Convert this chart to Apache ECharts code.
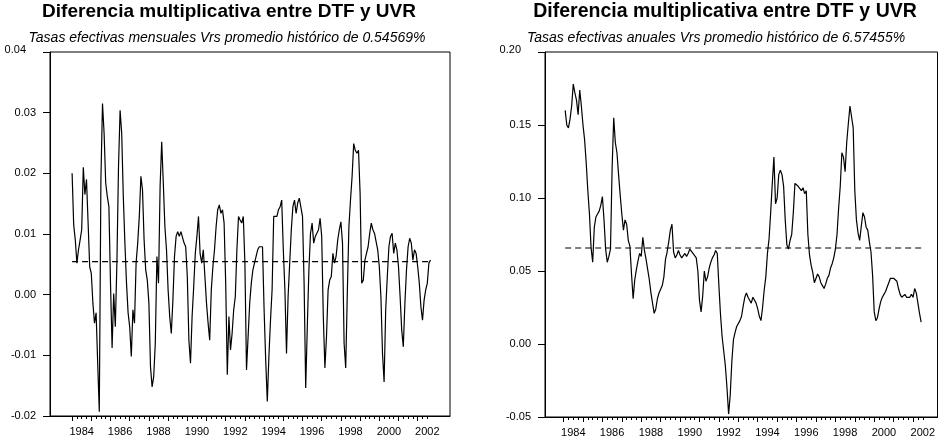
<!DOCTYPE html>
<html>
<head>
<meta charset="utf-8">
<script src="https://cdn.jsdelivr.net/npm/echarts@6/dist/echarts.min.js"></script>
<style>
  html, body { margin: 0; padding: 0; background: #fff; }
  #chart { width: 938px; height: 444px; }
</style>
</head>
<body>
<div id="chart"></div>
<script>
// monthly DTF/UVR multiplicative difference, monthly effective rates, from 1983-07
const monthlyStart = 1983.5;
const monthlyValues = [
  0.0200, 0.0115, 0.0090, 0.0052, 0.0074, 0.0090,
  0.0107, 0.0210, 0.0165, 0.0190, 0.0118, 0.0046, 0.0035, -0.0014, -0.0047, -0.0030, -0.0113, -0.0193,
  0.0189, 0.0315, 0.0266, 0.0184, 0.0162, 0.0145, 0.0019, -0.0088, 0.0002, -0.0053, 0.0052, 0.0211,
  0.0304, 0.0266, 0.0162, 0.0085, 0.0019, -0.0030, -0.0053, -0.0102, -0.0025, -0.0047, 0.0052, 0.0085,
  0.0129, 0.0195, 0.0173, 0.0090, 0.0041, 0.0024, -0.0014, -0.0119, -0.0152, -0.0135, -0.0080, 0.0063,
  0.0019, 0.0178, 0.0252, 0.0184, 0.0112, 0.0074, 0.0008, -0.0036, -0.0064, -0.0009, 0.0063, 0.0096,
  0.0104, 0.0096, 0.0104, 0.0101, 0.0085, 0.0079, 0.0030, -0.0075, -0.0113, -0.0036, 0.0013, 0.0068,
  0.0096, 0.0129, 0.0068, 0.0052, 0.0074, 0.0030, -0.0014, -0.0047, -0.0075, 0.0008, 0.0046, 0.0074,
  0.0112, 0.0140, 0.0148, 0.0134, 0.0140, 0.0118, 0.0019, -0.0132, -0.0036, -0.0091, -0.0064, -0.0025,
  -0.0003, 0.0074, 0.0129, 0.0123, 0.0118, 0.0129, 0.0052, -0.0124, -0.0124, -0.0014, 0.0019, 0.0041,
  0.0052, 0.0063, 0.0074, 0.0079, 0.0082, 0.0079, -0.0025, -0.0108, -0.0176, -0.0102, -0.0042, 0.0008,
  0.0129, 0.0131, 0.0129, 0.0140, 0.0145, 0.0156, 0.0074, 0.0008, -0.0097, -0.0003, 0.0052, 0.0107,
  0.0145, 0.0156, 0.0134, 0.0151, 0.0159, 0.0162, 0.0129, 0.0019, -0.0154, -0.0053, 0.0041, 0.0101,
  0.0118, 0.0085, 0.0096, 0.0096, 0.0107, 0.0126, 0.0096, -0.0036, -0.0121, -0.0069, 0.0008, 0.0024,
  0.0030, 0.0068, 0.0052, 0.0063, 0.0090, 0.0107, 0.0120, 0.0085, -0.0080, -0.0121, 0.0002, 0.0112,
  0.0156, 0.0195, 0.0249, 0.0238, 0.0233, 0.0238, 0.0167, 0.0019, 0.0024, 0.0057, 0.0068, 0.0079,
  0.0101, 0.0118, 0.0107, 0.0101, 0.0104, 0.0074, 0.0046, -0.0003, -0.0097, -0.0144, -0.0025, 0.0030,
  0.0079, 0.0096, 0.0101, 0.0068, 0.0085, 0.0074, 0.0046, -0.0003, -0.0058, -0.0086, -0.0014, 0.0041,
  0.0079, 0.0093, 0.0085, 0.0057, 0.0074, 0.0068, 0.0046, 0.0019, -0.0020, -0.0042, -0.0009, 0.0008,
  0.0019, 0.0052, 0.0057
];
const monthlyMean = 0.0054569;

// same difference on annual effective rates, from 1983-08
const annualStart = 1983 + 7 / 12;
const annualValues = [
  0.160, 0.150, 0.148, 0.154, 0.163,
  0.178, 0.172, 0.167, 0.157, 0.174, 0.163, 0.150, 0.140, 0.124, 0.105, 0.089, 0.066,
  0.056, 0.080, 0.087, 0.089, 0.091, 0.095, 0.101, 0.085, 0.065, 0.056, 0.060, 0.065,
  0.120, 0.155, 0.138, 0.131, 0.116, 0.102, 0.089, 0.078, 0.085, 0.082, 0.071, 0.067,
  0.048, 0.031, 0.044, 0.051, 0.057, 0.062, 0.060, 0.073, 0.064, 0.058, 0.051, 0.044,
  0.035, 0.028, 0.021, 0.024, 0.031, 0.035, 0.036, 0.040, 0.046, 0.058, 0.063, 0.070,
  0.078, 0.082, 0.063, 0.059, 0.061, 0.064, 0.061, 0.059, 0.060, 0.062, 0.060, 0.062,
  0.065, 0.064, 0.062, 0.061, 0.059, 0.050, 0.030, 0.022, 0.033, 0.050, 0.043, 0.046,
  0.052, 0.056, 0.059, 0.061, 0.064, 0.062, 0.040, 0.020, 0.005, -0.005, -0.015, -0.030,
  -0.048, -0.035, -0.012, 0.003, 0.008, 0.012, 0.012, 0.016, 0.019, 0.026, 0.032, 0.035,
  0.032, 0.030, 0.028, 0.032, 0.032, 0.028, 0.024, 0.019, 0.016, 0.025, 0.037, 0.046,
  0.062, 0.072, 0.090, 0.110, 0.128, 0.096, 0.100, 0.116, 0.119, 0.116, 0.108, 0.085,
  0.068, 0.065, 0.071, 0.075, 0.090, 0.110, 0.109, 0.108, 0.108, 0.105, 0.107, 0.103,
  0.105, 0.075, 0.061, 0.054, 0.049, 0.042, 0.043, 0.048, 0.046, 0.042, 0.040, 0.038,
  0.041, 0.045, 0.047, 0.052, 0.055, 0.059, 0.065, 0.075, 0.093, 0.108, 0.131, 0.128,
  0.118, 0.138, 0.151, 0.163, 0.163, 0.148, 0.105, 0.085, 0.076, 0.071, 0.070, 0.090,
  0.087, 0.080, 0.078, 0.070, 0.063, 0.047, 0.022, 0.016, 0.018, 0.024, 0.029, 0.032,
  0.034, 0.036, 0.039, 0.042, 0.045, 0.046, 0.045, 0.044, 0.043, 0.038, 0.034, 0.032,
  0.033, 0.034, 0.032, 0.032, 0.032, 0.034, 0.032, 0.038, 0.035, 0.028, 0.021, 0.015
];
const annualMean = 0.0657455;

const yearLabels = [1984, 1986, 1988, 1990, 1992, 1994, 1996, 1998, 2000, 2002];
const titleText = 'Diferencia multiplicativa entre DTF y UVR';
const leftSubtitle = 'Tasas efectivas mensuales Vrs promedio histórico de 0.54569%';
const rightSubtitle = 'Tasas efectivas anuales Vrs promedio histórico de 6.57455%';

function toPoints(start, values) {
  return values.map((v, i) => [start + i / 12, v]);
}

function meanLine(start, values, mean) {
  return [[start, mean], [start + (values.length - 1) / 12, mean]];
}

function range(a, b, step) {
  const out = [];
  for (let v = a; v <= b + 1e-9; v += step) out.push(+v.toFixed(4));
  return out;
}

const font = 'Arial, "Liberation Sans", sans-serif';

function xAxes(gridIndex, min, max, first, last) {
  return [
    {
      gridIndex: gridIndex,
      type: 'value',
      position: 'bottom',
      min: min,
      max: max,
      axisLine: { show: true, onZero: false, lineStyle: { color: '#000', width: 1 } },
      axisTick: { show: true, customValues: range(first, last, 1), length: 5, lineStyle: { color: '#000' } },
      axisLabel: {
        customValues: yearLabels,
        formatter: v => String(v),
        color: '#000',
        fontFamily: font,
        fontSize: 11,
        margin: 10
      },
      splitLine: { show: false }
    },
    {
      // quarter ticks only
      gridIndex: gridIndex,
      type: 'value',
      position: 'bottom',
      min: min,
      max: max,
      axisLine: { show: false, onZero: false },
      axisTick: { show: true, customValues: range(first, last, 0.25), length: 3, lineStyle: { color: '#000' } },
      axisLabel: { show: false },
      splitLine: { show: false }
    }
  ];
}

function yAxis(gridIndex, min, max, interval) {
  return {
    gridIndex: gridIndex,
    type: 'value',
    min: min,
    max: max,
    interval: interval,
    axisLine: { show: true, lineStyle: { color: '#000' } },
    axisTick: { show: true, length: 7, lineStyle: { color: '#000' } },
    axisLabel: {
      // top label sits a bit further left, like the original
      formatter: v => (v === max ? '{top|' + v.toFixed(2) + '}' : v.toFixed(2)),
      rich: { top: { fontFamily: font, fontSize: 11, color: '#000', padding: [0, 10, 4, 0] } },
      color: '#000',
      fontFamily: font,
      fontSize: 11,
      margin: 14
    },
    splitLine: { show: false }
  };
}

const chart = echarts.init(document.getElementById('chart'));

const option = {
  animation: false,
  backgroundColor: '#fff',
  graphic: [
    { type: 'text', x: 229, y: 12, style: { text: titleText, font: 'bold 19px ' + font, fill: '#000', textAlign: 'center', textVerticalAlign: 'middle' } },
    { type: 'text', x: 227, y: 38, style: { text: leftSubtitle, font: 'italic 14px ' + font, fill: '#000', textAlign: 'center', textVerticalAlign: 'middle' } },
    { type: 'text', x: 725, y: 12, style: { text: titleText, font: 'bold 19.5px ' + font, fill: '#000', textAlign: 'center', textVerticalAlign: 'middle' } },
    { type: 'text', x: 716, y: 38, style: { text: rightSubtitle, font: 'italic 14px ' + font, fill: '#000', textAlign: 'center', textVerticalAlign: 'middle' } }
  ],
  grid: [
    { left: 50, top: 52, width: 400, bottom: 28, show: true, borderColor: '#000', borderWidth: 1, backgroundColor: 'transparent' },
    { left: 545, top: 52, right: 0, bottom: 27, show: true, borderColor: '#000', borderWidth: 1, backgroundColor: 'transparent' }
  ],
  xAxis: [
    ...xAxes(0, 1982.349, 2003.182, 1983.5, 2002),
    ...xAxes(1, 1982.544, 2002.76, 1983.5, 2002)
  ],
  yAxis: [
    yAxis(0, -0.02, 0.04, 0.01),
    yAxis(1, -0.05, 0.20, 0.05)
  ],
  series: [
    {
      type: 'line', xAxisIndex: 0, yAxisIndex: 0, symbol: 'none',
      data: toPoints(monthlyStart, monthlyValues),
      lineStyle: { color: '#000', width: 1.2 }
    },
    {
      type: 'line', xAxisIndex: 0, yAxisIndex: 0, symbol: 'none',
      data: meanLine(monthlyStart, monthlyValues, monthlyMean),
      lineStyle: { color: '#000', width: 1.2, type: [6, 4] }
    },
    {
      type: 'line', xAxisIndex: 2, yAxisIndex: 1, symbol: 'none',
      data: toPoints(annualStart, annualValues),
      lineStyle: { color: '#000', width: 1.2 }
    },
    {
      type: 'line', xAxisIndex: 2, yAxisIndex: 1, symbol: 'none',
      data: meanLine(annualStart, annualValues, annualMean),
      lineStyle: { color: '#000', width: 1.2, type: [6, 4] }
    }
  ]
};

chart.setOption(option);
</script>
</body>
</html>
